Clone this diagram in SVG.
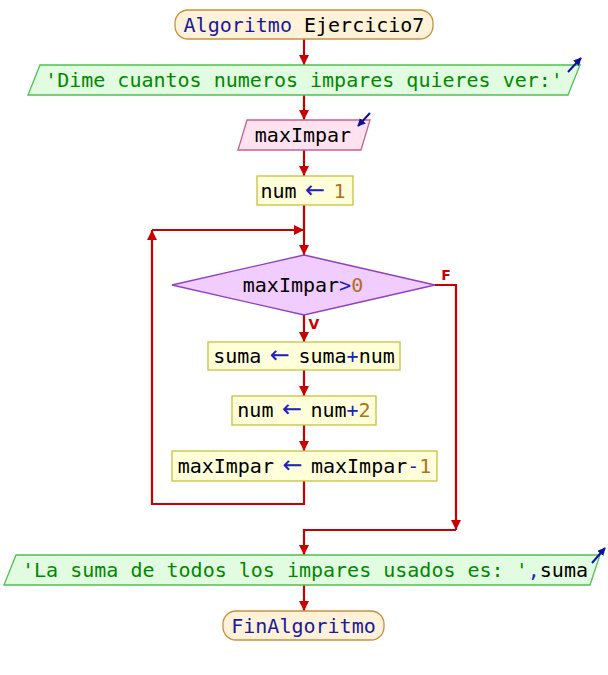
<svg xmlns="http://www.w3.org/2000/svg" width="608" height="675" viewBox="0 0 608 675">
<defs>
<style>
.t{font-family:"DejaVu Sans Mono","Liberation Mono",monospace;font-size:20px;fill:#000}
.kw{fill:#1a1a9c}
.op{fill:#2020c0}
.ar{fill:#2020c0;font-family:"DejaVu Sans","Liberation Sans",sans-serif;font-size:24px}
.sp{font-size:14px}
.num{fill:#b07020}
.str{fill:#008800}
.term{fill:#fff2d8;stroke:#c89040;stroke-width:1.3}
.out{fill:#e2fce2;stroke:#50c050;stroke-width:1.3}
.inp{fill:#ffe2f0;stroke:#c86090;stroke-width:1.3}
.proc{fill:#ffffda;stroke:#c8c040;stroke-width:1.3}
.dec{fill:#f0ccff;stroke:#9040c0;stroke-width:1.3}
.c{fill:none;stroke:#c80000;stroke-width:2.2}
.ic{fill:none;stroke:#1010a0;stroke-width:2}
.lbl{font-family:"DejaVu Sans","Liberation Sans",sans-serif;font-size:14px;font-weight:bold;fill:#c80000}
</style>
<marker id="ah" viewBox="0 0 10 10" refX="10" refY="5" markerWidth="10" markerHeight="10" markerUnits="userSpaceOnUse" orient="auto">
<path d="M0,0 L10,5 L0,10 z" fill="#c80000"/>
</marker>
<marker id="bh" viewBox="0 0 10 10" refX="9" refY="5" markerWidth="8" markerHeight="8" markerUnits="userSpaceOnUse" orient="auto">
<path d="M0,0 L10,5 L0,10 z" fill="#1010a0"/>
</marker>
</defs>
<rect width="608" height="675" fill="#fff"/>
<g id="connectors">
<line class="c" x1="304" y1="39" x2="304" y2="65" marker-end="url(#ah)"/>
<line class="c" x1="304" y1="95" x2="304" y2="120" marker-end="url(#ah)"/>
<line class="c" x1="304" y1="150" x2="304" y2="176" marker-end="url(#ah)"/>
<line class="c" x1="304" y1="205" x2="304" y2="255" marker-end="url(#ah)"/>
<line class="c" x1="304" y1="315" x2="304" y2="342" marker-end="url(#ah)"/>
<line class="c" x1="304" y1="370" x2="304" y2="396" marker-end="url(#ah)"/>
<line class="c" x1="304" y1="425" x2="304" y2="451" marker-end="url(#ah)"/>
<path class="c" d="M304,481 V504 H152 V230" marker-end="url(#ah)"/>
<line class="c" x1="152" y1="230" x2="304" y2="230" marker-end="url(#ah)"/>
<path class="c" d="M435,285 H456 V530" marker-end="url(#ah)"/>
<path class="c" d="M456,530 H304 V555" marker-end="url(#ah)"/>
<line class="c" x1="304" y1="585" x2="304" y2="611" marker-end="url(#ah)"/>
<text class="lbl" x="446" y="280" text-anchor="middle">F</text>
<text class="lbl" x="314" y="329" text-anchor="middle">V</text>
</g>
<g id="start">
<rect class="term" x="175" y="10" width="258" height="29" rx="13"/>
<text class="t" x="304" y="31.5" text-anchor="middle"><tspan class="kw">Algoritmo</tspan> Ejercicio7</text>
</g>
<g id="output1">
<polygon class="out" points="40,65 580,65 568,95 28,95"/>
<text class="t" x="304" y="87" text-anchor="middle"><tspan class="str">'Dime cuantos numeros impares quieres ver:'</tspan></text>
<line class="ic" x1="568" y1="72" x2="581" y2="58" marker-end="url(#bh)"/>
</g>
<g id="input1">
<polygon class="inp" points="247,120 370,120 361,150 238,150"/>
<text class="t" x="303" y="142" text-anchor="middle">maxImpar</text>
<line class="ic" x1="370" y1="113" x2="358" y2="126" marker-end="url(#bh)"/>
</g>
<g id="assign1">
<rect class="proc" x="257" y="176" width="96" height="29"/>
<text class="t" x="303" y="197.5" text-anchor="middle">num<tspan class="sp"> </tspan><tspan class="ar">←</tspan><tspan class="sp"> </tspan><tspan class="num">1</tspan></text>
</g>
<g id="decision">
<polygon class="dec" points="304,255 435,285 304,315 172,285"/>
<text class="t" x="303" y="292" text-anchor="middle">maxImpar<tspan class="op">&gt;</tspan><tspan class="num">0</tspan></text>
</g>
<g id="assign2">
<rect class="proc" x="208" y="342" width="192" height="28"/>
<text class="t" x="304" y="362.5" text-anchor="middle">suma<tspan class="sp"> </tspan><tspan class="ar">←</tspan><tspan class="sp"> </tspan>suma<tspan class="op">+</tspan>num</text>
</g>
<g id="assign3">
<rect class="proc" x="232" y="396" width="144" height="29"/>
<text class="t" x="304" y="417" text-anchor="middle">num<tspan class="sp"> </tspan><tspan class="ar">←</tspan><tspan class="sp"> </tspan>num<tspan class="op">+</tspan><tspan class="num">2</tspan></text>
</g>
<g id="assign4">
<rect class="proc" x="172" y="451" width="265" height="30"/>
<text class="t" x="304.5" y="472.5" text-anchor="middle">maxImpar<tspan class="sp"> </tspan><tspan class="ar">←</tspan><tspan class="sp"> </tspan>maxImpar<tspan class="op">-</tspan><tspan class="num">1</tspan></text>
</g>
<g id="output2">
<polygon class="out" points="16,555 600,555 590,585 4,585"/>
<text class="t" x="305" y="577" text-anchor="middle"><tspan class="str">'La suma de todos los impares usados es: '</tspan><tspan class="op">,</tspan>suma</text>
<line class="ic" x1="592" y1="563" x2="605" y2="548" marker-end="url(#bh)"/>
</g>
<g id="end">
<rect class="term" x="223" y="611" width="161" height="29" rx="13"/>
<text class="t" x="303.5" y="632.5" text-anchor="middle"><tspan class="kw">FinAlgoritmo</tspan></text>
</g>
</svg>
